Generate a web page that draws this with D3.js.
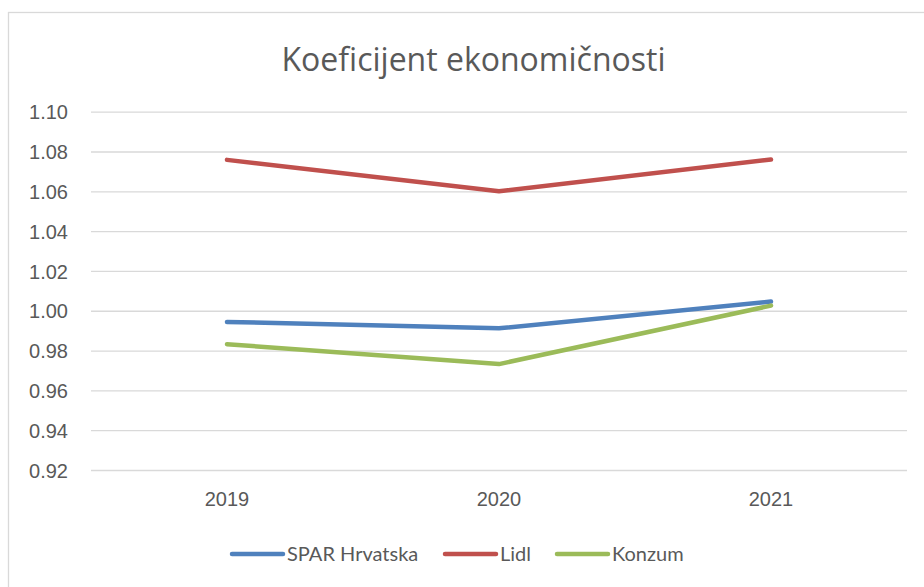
<!DOCTYPE html>
<html>
<head>
    <meta charset="utf-8">
    <style>
        body {
            margin: 0;
            background: #fff;
            font-family: Lato, "Open Sans", sans-serif;
        }
        .grid line {
            stroke: #d9d9d9;
            stroke-width: 1.3px;
        }
        .axis text {
            fill: #595959;
            font-size: 20px;
        }
        .series {
            fill: none;
            stroke-width: 4.5px;
            stroke-linejoin: round;
            stroke-linecap: round;
        }
    </style>
    <script src="https://d3js.org/d3.v7.min.js"></script>
</head>
<body>
    <script>
        // data
        const years = ['2019', '2020', '2021'];
        const seriesNames = ['SPAR Hrvatska', 'Lidl', 'Konzum'];
        const spar = [0.9944, 0.9912, 1.0046];
        const lidl = [1.0758, 1.0600, 1.0760];
        const konzum = [0.9832, 0.9732, 1.0026];
        const yTicks = [0.92, 0.94, 0.96, 0.98, 1.00, 1.02, 1.04, 1.06, 1.08, 1.10];
        const colors = ['#4f81bd', '#c0504d', '#9bbb59'];

        const width = 924, height = 587;
        const margin = {top: 111.7, right: 17, bottom: 117, left: 91};

        const svg = d3.select('body').append('svg')
            .attr('width', width)
            .attr('height', height);

        // outer chart border (runs off right / bottom edge)
        svg.append('rect')
            .attr('x', 8.5).attr('y', 12.5)
            .attr('width', 940).attr('height', 600)
            .attr('fill', 'none')
            .attr('stroke', '#d9d9d9')
            .attr('stroke-width', 1.3);

        const x = d3.scaleBand()
            .domain(years)
            .range([margin.left, width - margin.right])
            .padding(0);

        const y = d3.scaleLinear()
            .domain([0.92, 1.10])
            .range([height - margin.bottom, margin.top]);

        // gridlines
        svg.append('g')
            .attr('class', 'grid')
            .attr('transform', `translate(${margin.left},0)`)
            .call(d3.axisLeft(y).tickValues(yTicks).tickSize(-(width - margin.left - margin.right)).tickFormat(''))
            .call(g => g.select('.domain').remove());

        // y labels
        svg.append('g')
            .attr('class', 'axis')
            .attr('transform', `translate(68,0)`)
            .call(d3.axisLeft(y).tickValues(yTicks).tickSize(0).tickPadding(0).tickFormat(d3.format('.2f')))
            .call(g => g.select('.domain').remove())
            .selectAll('text').attr('dy', '0.36em');

        // x labels
        svg.append('g')
            .attr('class', 'axis')
            .attr('transform', `translate(0,${height - margin.bottom})`)
            .call(d3.axisBottom(x).tickSize(0).tickPadding(22))
            .call(g => g.select('.domain').remove());

        // lines
        const data = [spar, lidl, konzum];
        const line = d3.line()
            .x((d, i) => x(years[i]) + x.bandwidth() / 2)
            .y(d => y(d));

        svg.selectAll('path.series')
            .data(data)
            .enter().append('path')
            .attr('class', 'series')
            .attr('stroke', (d, i) => colors[i])
            .attr('d', line);

        // title
        svg.append('text')
            .attr('x', 473.5).attr('y', 70.5)
            .attr('text-anchor', 'middle')
            .attr('fill', '#595959')
            .style('font-family', '"Open Sans", sans-serif')
            .style('font-size', '32px')
            .text('Koeficijent ekonomičnosti');

        // legend
        const legendX = [232, 445, 557];
        const legend = svg.selectAll('g.legend')
            .data(seriesNames)
            .enter().append('g')
            .attr('class', 'legend')
            .attr('transform', (d, i) => `translate(${legendX[i]},554)`);

        legend.append('line')
            .attr('x1', 0).attr('x2', 51)
            .attr('stroke', (d, i) => colors[i])
            .attr('stroke-width', 4.5)
            .attr('stroke-linecap', 'round');

        legend.append('text')
            .attr('x', 55)
            .attr('dy', '0.36em')
            .attr('fill', '#595959')
            .style('font-size', '20px')
            .text(d => d);
    </script>
</body>
</html>
